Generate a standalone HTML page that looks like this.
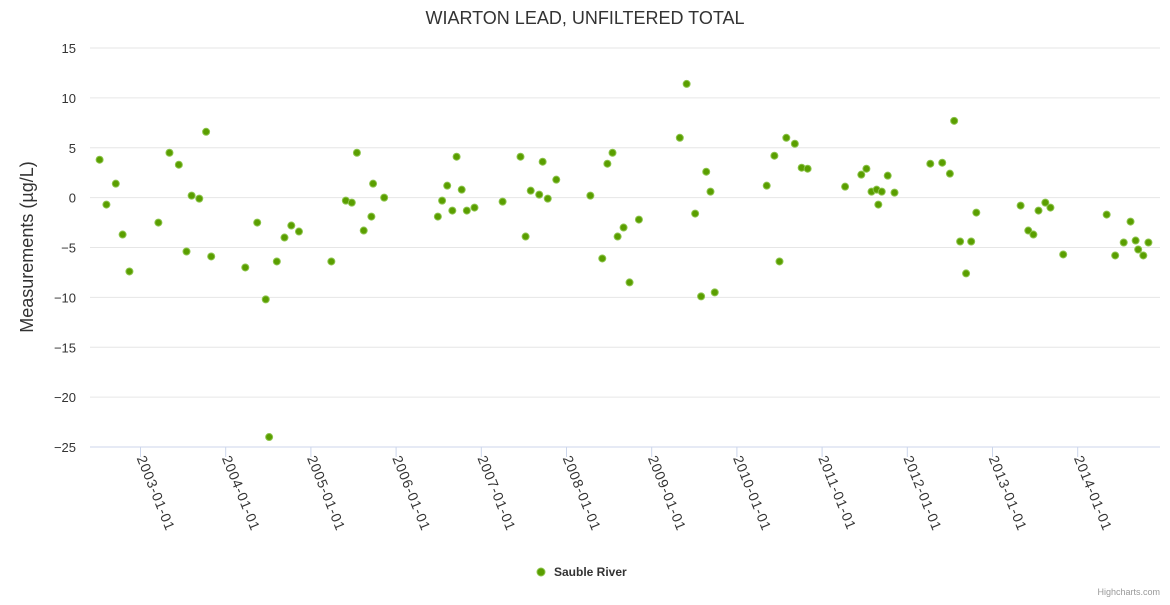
<!DOCTYPE html>
<html><head><meta charset="utf-8"><style>
body{margin:0;background:#fff;font-family:"Liberation Sans",sans-serif}
svg text{font-family:"Liberation Sans",sans-serif}
</style></head><body>
<svg id="chart" width="1170" height="600" xmlns="http://www.w3.org/2000/svg">
<text x="585" y="24" text-anchor="middle" font-size="18" fill="#333">WIARTON LEAD, UNFILTERED TOTAL</text>
<text transform="translate(33,247) rotate(-90)" text-anchor="middle" font-size="18" fill="#333">Measurements (µg/L)</text>
<g id="grid"></g><g id="xaxis"></g><g id="points"></g>
<g><circle cx="541" cy="572" r="4" fill="#5a9e00" stroke="#8bc34a" stroke-width="1"/><text x="554" y="576" font-size="12" font-weight="bold" fill="#333">Sauble River</text></g>
<text x="1160" y="595" text-anchor="end" font-size="9" fill="#999">Highcharts.com</text>
</svg>
<script>
const yTicks=[15,10,5,0,-5,-10,-15,-20,-25];
const xTickYears=[2003,2004,2005,2006,2007,2008,2009,2010,2011,2012,2013,2014];
const dates=[2002.52,2002.60,2002.71,2002.79,2002.87,2003.21,2003.34,2003.45,2003.54,2003.60,2003.69,2003.77,2003.83,2004.23,2004.37,2004.47,2004.51,2004.60,2004.69,2004.77,2004.86,2005.24,2005.41,2005.48,2005.54,2005.62,2005.71,2005.73,2005.86,2006.49,2006.54,2006.60,2006.66,2006.71,2006.77,2006.83,2006.92,2007.25,2007.46,2007.52,2007.58,2007.68,2007.72,2007.78,2007.88,2008.28,2008.42,2008.48,2008.54,2008.60,2008.67,2008.74,2008.85,2009.33,2009.41,2009.51,2009.58,2009.64,2009.69,2009.74,2010.35,2010.44,2010.50,2010.58,2010.68,2010.76,2010.83,2011.27,2011.46,2011.52,2011.58,2011.64,2011.66,2011.70,2011.77,2011.85,2012.27,2012.41,2012.50,2012.55,2012.62,2012.69,2012.75,2012.81,2013.33,2013.42,2013.48,2013.54,2013.62,2013.68,2013.83,2014.34,2014.44,2014.54,2014.62,2014.68,2014.71,2014.77,2014.83];
const values=[3.8,-0.7,1.4,-3.7,-7.4,-2.5,4.5,3.3,-5.4,0.2,-0.1,6.6,-5.9,-7.0,-2.5,-10.2,-24,-6.4,-4.0,-2.8,-3.4,-6.4,-0.3,-0.5,4.5,-3.3,-1.9,1.4,0.0,-1.9,-0.3,1.2,-1.3,4.1,0.8,-1.3,-1.0,-0.4,4.1,-3.9,0.7,0.3,3.6,-0.1,1.8,0.2,-6.1,3.4,4.5,-3.9,-3.0,-8.5,-2.2,6.0,11.4,-1.6,-9.9,2.6,0.6,-9.5,1.2,4.2,-6.4,6.0,5.4,3.0,2.9,1.1,2.3,2.9,0.6,0.8,-0.7,0.6,2.2,0.5,3.4,3.5,2.4,7.7,-4.4,-7.6,-4.4,-1.5,-0.8,-3.3,-3.7,-1.3,-0.5,-1.0,-5.7,-1.7,-5.8,-4.5,-2.4,-4.3,-5.2,-5.8,-4.5];
const NS="http://www.w3.org/2000/svg";
const L=90,R=1160,T=48,B=447;
function y(v){return T+(15-v)/40*(B-T);}
function x(d){return 140.5+(d-2003)*85.2;}
function mk(tag,attrs,parent){const e=document.createElementNS(NS,tag);for(const k in attrs)e.setAttribute(k,attrs[k]);parent.appendChild(e);return e;}
const grid=document.getElementById('grid');
yTicks.forEach(v=>{
  const l=mk('line',{x1:L,x2:R,y1:y(v),y2:y(v),stroke:v===-25?'#ccd6eb':'#e6e6e6','stroke-width':1},grid);
  
  
  const t=mk('text',{x:L-14,y:y(v)+5,'text-anchor':'end','font-size':13,fill:'#333'},grid);
  
  
  t.textContent=v<0?'−'+(-v):String(v);
});
const xa=document.getElementById('xaxis');
xTickYears.forEach(yr=>{
  const px=x(yr);
  const tk=mk('line',{x1:px,x2:px,y1:B,y2:B+10,stroke:'#ccd6eb'},xa);
  
  
  const t=mk('text',{transform:`translate(${px-4},${B+11}) rotate(68)`,'font-size':14,'letter-spacing':'0.8',fill:'#333'},xa);
  
  
  t.textContent=yr+'-01-01';
});
const pts=document.getElementById('points');
dates.forEach((d,i)=>{
  const c=mk('circle',{cx:x(d),cy:y(values[i]),r:3.5,fill:'#5a9e00',stroke:'#8bc34a','stroke-width':1},pts);
  
  
});
</script>
</body></html>
